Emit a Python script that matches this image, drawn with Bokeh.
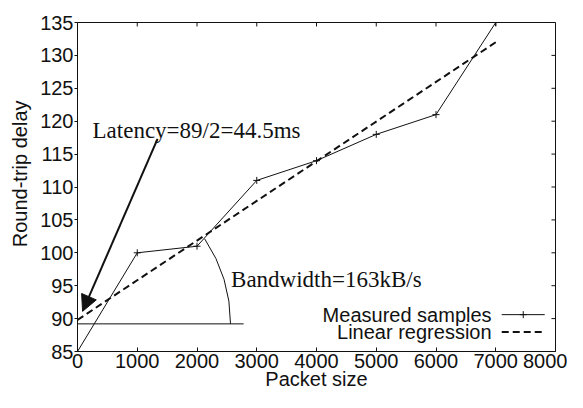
import math
from bokeh.plotting import figure
from bokeh.models import Range1d, FixedTicker, Label, Arrow, NormalHead, Title
from bokeh.embed import file_html
from bokeh.resources import INLINE

# ---- data ----
packet_size = [0, 1000, 2000, 3000, 4000, 5000, 6000, 7000]
rtt_delay = [85, 100, 101, 111, 114, 118, 121, 135]
reg_x = [0, 7000]
reg_y = [89.8, 132.0]
x_ticks = [0, 1000, 2000, 3000, 4000, 5000, 6000, 7000, 8000]
y_ticks = [85, 90, 95, 100, 105, 110, 115, 120, 125, 130, 135]
latency_text = "Latency=89/2=44.5ms"
bandwidth_text = "Bandwidth=163kB/s"
legend_labels = ["Measured samples", "Linear regression"]

INK = "#111111"
SANS = "Liberation Sans"
SERIF = "Liberation Serif"

p = figure(width=567, height=392, output_backend="svg", toolbar_location=None,
           x_range=Range1d(0, 8000), y_range=Range1d(85, 135),
           min_border_left=77, min_border_right=12, min_border_top=22, min_border_bottom=0)
p.background_fill_color = "white"
p.border_fill_color = "white"
p.outline_line_color = INK
p.outline_line_width = 1
p.xgrid.grid_line_color = None
p.ygrid.grid_line_color = None

# bottom axis
xa = p.xaxis[0]
xa.ticker = FixedTicker(ticks=x_ticks)
xa.major_tick_in = 4
xa.major_tick_out = 0
xa.minor_tick_line_color = None
xa.major_label_standoff = 2
xa.major_label_text_font = SANS
xa.major_label_text_font_size = "20px"
xa.major_label_text_color = INK
xa.axis_line_color = INK
xa.major_tick_line_color = INK
xa.axis_label = "Packet size"
xa.axis_label_standoff = -3
xa.axis_label_text_font = SANS
xa.axis_label_text_font_size = "20px"
xa.axis_label_text_font_style = "normal"
xa.axis_label_text_color = INK

# left axis
ya = p.yaxis[0]
ya.ticker = FixedTicker(ticks=y_ticks)
ya.major_tick_in = 0
ya.major_tick_out = 3
ya.minor_tick_line_color = None
ya.major_label_standoff = 1
ya.major_label_text_font = SANS
ya.major_label_text_font_size = "20px"
ya.major_label_text_color = INK
ya.axis_line_color = INK
ya.major_tick_line_color = INK

# y-axis title (shifted upward like the original): anchored at top of the panel
p.add_layout(Title(text="Round-trip delay", align="right", offset=78, standoff=13,
                   text_font=SANS, text_font_size="20px", text_font_style="normal",
                   text_color=INK), "left")

# inner ticks on top and right edges
tick_dx = 67
tick_dy = 0.6
p.segment(x0=x_ticks, y0=[135] * len(x_ticks), x1=x_ticks, y1=[135 - tick_dy] * len(x_ticks),
          line_color=INK, line_width=1)
p.segment(x0=[8000] * len(y_ticks), y0=y_ticks, x1=[8000 - tick_dx] * len(y_ticks), y1=y_ticks,
          line_color=INK, line_width=1)

# data
p.line(packet_size, rtt_delay, line_color=INK, line_width=1)
p.scatter(packet_size, rtt_delay, marker="cross", size=7, line_color=INK, line_width=1)
p.line(reg_x, reg_y, line_color=INK, line_width=2, line_dash="7 4")

# bandwidth annotation: base line + arc
p.line([0, 2780], [89.2, 89.2], line_color=INK, line_width=1)
p.arc(x=[0], y=[89.2], radius=153, radius_units="screen", start_angle=0, end_angle=0.59,
      line_color=INK, line_width=1)
p.add_layout(Label(x=2570, y=95.95, text=bandwidth_text, text_font=SERIF, text_font_size="23px",
                   text_color=INK, text_align="left", text_baseline="alphabetic"))

# latency annotation
p.add_layout(Label(x=252, y=118.6, text=latency_text, text_font=SERIF, text_font_size="23px",
                   text_color=INK, text_align="left", text_baseline="alphabetic"))
p.add_layout(Arrow(x_start=1340, y_start=117.3, x_end=85, y_end=91.1, line_color=INK, line_width=2,
                   end=NormalHead(size=16, fill_color=INK, line_color=INK)))

# legend (text then sample, gnuplot style)
p.add_layout(Label(x=6930, y=90.6, text=legend_labels[0], text_font=SANS, text_font_size="20px",
                   text_color=INK, text_align="right", text_baseline="middle"))
p.add_layout(Label(x=6930, y=87.95, text=legend_labels[1], text_font=SANS, text_font_size="20px",
                   text_color=INK, text_align="right", text_baseline="middle"))
p.line([7100, 7820], [90.6, 90.6], line_color=INK, line_width=1)
p.scatter([7460], [90.6], marker="cross", size=7, line_color=INK)
p.line([7100, 7780], [87.95, 87.95], line_color=INK, line_width=2, line_dash="7 4")

open("out.html", "w").write(file_html(p, INLINE))
